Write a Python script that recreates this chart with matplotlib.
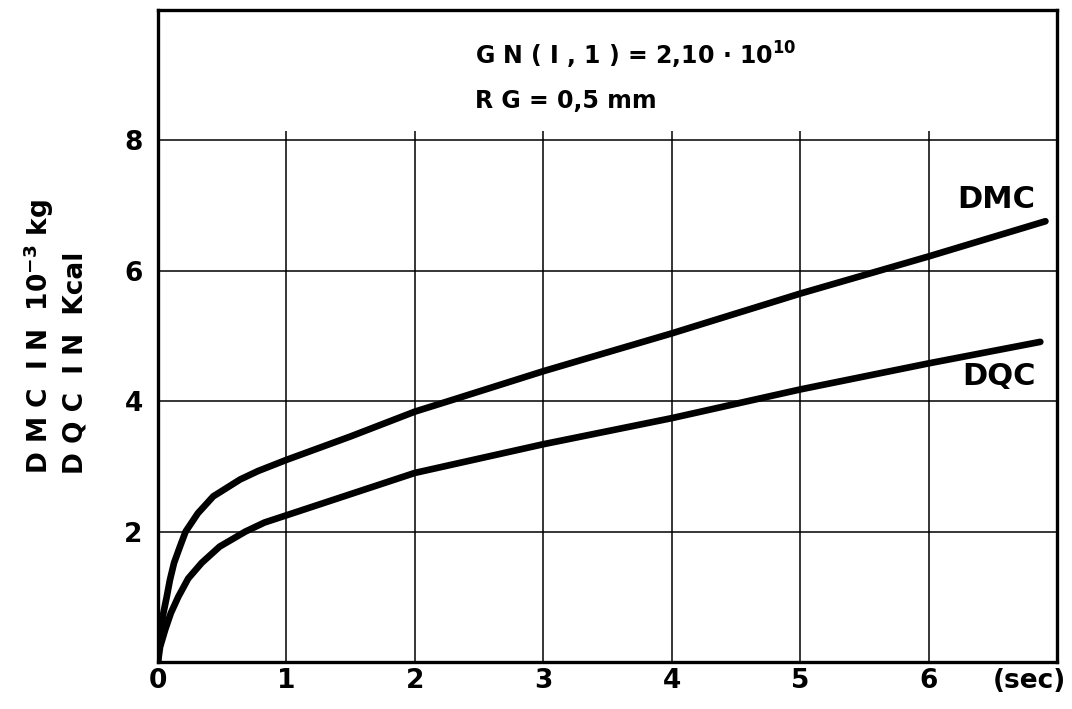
import matplotlib
matplotlib.use("Agg")
import matplotlib.pyplot as plt

# values
time_dmc = [0, 0.003, 0.021, 0.042, 0.068, 0.093, 0.125, 0.171, 0.215, 0.31, 0.43, 0.64, 0.78, 1.0,
            1.5, 2.0, 2.26, 3.0, 4.0, 5.0, 6.0, 6.91]
dmc = [0, 0.23, 0.49, 0.75, 1.0, 1.26, 1.52, 1.77, 2.0, 2.28, 2.54, 2.8, 2.93, 3.1,
       3.46, 3.84, 4.0, 4.46, 5.04, 5.65, 6.22, 6.76]

time_dqc = [0, 0.016, 0.055, 0.10, 0.158, 0.235, 0.34, 0.48, 0.68, 0.83, 1.0, 2.0, 3.0, 4.0, 5.0, 6.0, 6.87]
dqc = [0, 0.23, 0.49, 0.75, 1.0, 1.28, 1.52, 1.77, 2.0, 2.14, 2.25, 2.9, 3.34, 3.74, 4.18, 4.58, 4.91]

x_ticks = [0, 1, 2, 3, 4, 5, 6]
y_ticks = [2, 4, 6, 8]

plt.rcParams['font.family'] = ['DejaVu Sans']
plt.rcParams['font.weight'] = 'bold'
plt.rcParams['mathtext.default'] = 'bf'

fig = plt.figure(figsize=(10.72, 7.09), dpi=100)
ax = fig.add_axes([158 / 1072, 47 / 709, 899 / 1072, 652 / 709])
ax.set_xlim(0, 7)
ax.set_ylim(0, 10)

# grid: horizontal lines over full width, vertical lines stop just above 8
for yv in y_ticks:
    ax.axhline(yv, color='black', lw=1.1, zorder=1)
ax.vlines(x_ticks[1:], 0, 8.15, color='black', lw=1.1, zorder=1)

# curves
ax.plot(time_dmc, dmc, color='black', lw=4.8, solid_joinstyle='round', solid_capstyle='round', zorder=3)
ax.plot(time_dqc, dqc, color='black', lw=4.8, solid_joinstyle='round', solid_capstyle='round', zorder=3)

ax.text(6.53, 7.09, "DMC", fontsize=22, fontweight='bold', ha='center', va='center')
ax.text(6.55, 4.38, "DQC", fontsize=22, fontweight='bold', ha='center', va='center')

ax.text(2.47, 9.16, "G N ( I , 1 ) = 2,10 · 10$^{10}$", fontsize=17, fontweight='bold', ha='left', va='baseline')
ax.text(2.47, 8.50, "R G = 0,5 mm", fontsize=17, fontweight='bold', ha='left', va='baseline')

# ticks
ax.set_xticks(x_ticks)
ax.set_xticklabels([str(v) for v in x_ticks], fontsize=19, fontweight='bold')
ax.set_yticks(y_ticks)
ax.set_yticklabels([str(v) for v in y_ticks], fontsize=19, fontweight='bold')
ax.tick_params(axis='x', length=0, pad=4)
ax.tick_params(axis='y', length=0, pad=11)

ax.annotate("(sec)", xy=(6.5, 0), xycoords=('data', 'axes fraction'), xytext=(0, -4),
            textcoords='offset points', fontsize=19, fontweight='bold', ha='left', va='top',
            annotation_clip=False)

for s in ax.spines.values():
    s.set_linewidth(2.4)

fig.text(55 / 1072, (709 - 336) / 709, "D M C  I N  10$^{-3}$ kg\nD Q C  I N  Kcal",
         rotation=90, ha='center', va='center', multialignment='left',
         fontsize=19, fontweight='bold', linespacing=1.3)

fig.savefig("out.png", dpi=100)
